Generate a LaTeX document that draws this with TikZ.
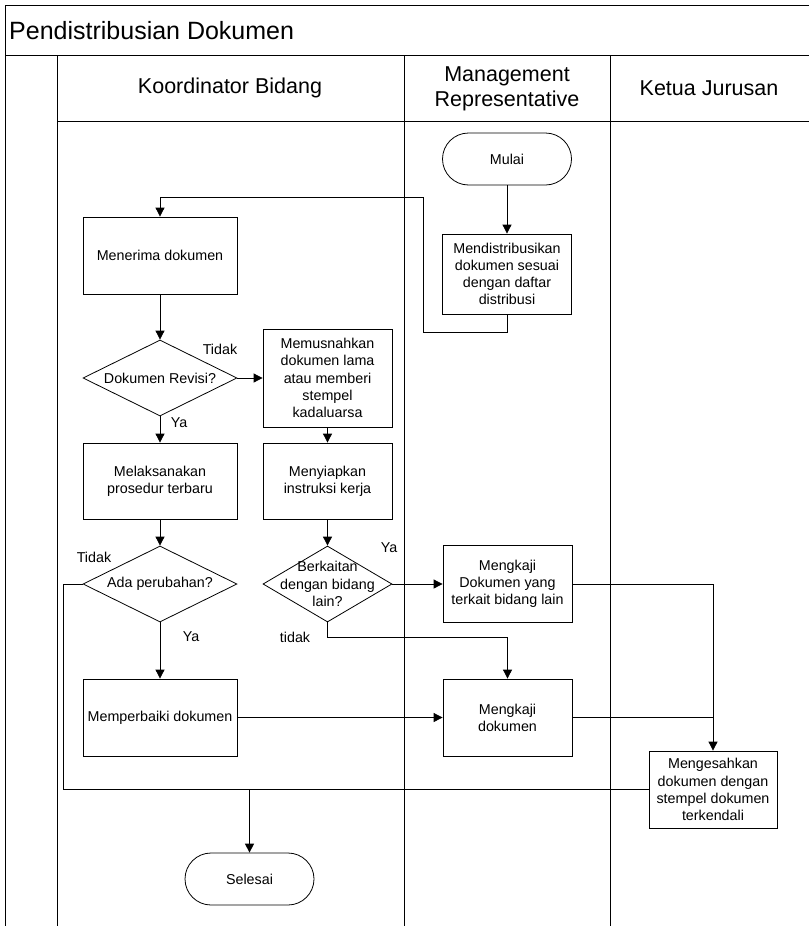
\documentclass[tikz,border=0pt]{standalone}
\usepackage{fontspec}
\setmainfont{Liberation Sans}
\usetikzlibrary{shapes.geometric,arrows.meta}
\newcommand{\bodyfont}{\fontsize{14.3pt}{17.2pt}\selectfont}
\newcommand{\headfont}{\fontsize{21.5pt}{25pt}\selectfont}
\newcommand{\titlefont}{\fontsize{25pt}{29pt}\selectfont}
\tikzset{
    lane/.style={line width=1pt},
    procbox/.style={draw, line width=0.8pt, minimum width=129pt, minimum height=77pt, inner sep=2pt, align=center, font=\bodyfont},
    decision/.style={draw, diamond, aspect=2, line width=0.8pt, minimum width=154pt, minimum height=76pt, inner sep=0pt, align=center, font=\bodyfont},
    terminal/.style={draw, rounded corners=26pt, line width=0.8pt, minimum width=129pt, minimum height=52pt, align=center, font=\bodyfont},
    flow/.style={line width=0.8pt, -{Triangle[length=9pt,width=9pt]}},
    noarrow/.style={line width=0.8pt},
    answer/.style={font=\bodyfont, inner sep=0pt},
}

\begin{document}
\begin{tikzpicture}[x=1pt,y=-1pt]
\useasboundingbox (0,0) rectangle (809,926);
% pool and lanes
\draw[lane] (809,5) -- (5,5) -- (5,926);
\draw[lane] (5,55) -- (809,55);
\draw[lane] (57,121) -- (809,121);
\foreach \x in {57,404,610}
    \draw[lane] (\x,55) -- (\x,926);
\node[anchor=west, font=\titlefont, inner sep=0pt] (title) at (9,31) {Pendistribusian Dokumen};
\node[font=\headfont] (koord) at (230,88) {Koordinator Bidang};
\node[font=\headfont, align=center] (mr) at (507,89) {Management\\Representative};
\node[font=\headfont] (kajur) at (709,88) {Ketua Jurusan};

% steps
\node[terminal] (mulai) at (507,159) {Mulai};
\node[procbox, minimum height=80pt] (distribusi) at (507,274) {Mendistribusikan\\dokumen sesuai\\dengan daftar\\distribusi};
\node[procbox, minimum width=154pt] (terima) at (160,255.5) {Menerima dokumen};
\node[decision] (revisi) at (160,378) {Dokumen Revisi?};
\node[procbox, minimum height=98pt] (musnah) at (327.5,378) {Memusnahkan\\dokumen lama\\atau memberi\\stempel\\kadaluarsa};
\node[procbox, minimum width=154pt, minimum height=76pt] (laksana) at (160,481) {Melaksanakan\\prosedur terbaru};
\node[procbox, minimum height=76pt] (siapkan) at (327.5,481) {Menyiapkan\\instruksi kerja};
\node[decision] (ubah) at (160,584) {Ada perubahan?};
\node[decision, minimum width=129pt, inner xsep=-40pt, inner ysep=-22pt] (kaitan) at (327.5,584) {Berkaitan\\dengan bidang\\lain?};
\node[procbox] (kajilain) at (507.5,584) {Mengkaji\\Dokumen yang\\terkait bidang lain};
\node[procbox, minimum width=154pt] (perbaiki) at (160,717.5) {Memperbaiki dokumen};
\node[procbox] (kaji) at (507.5,717.5) {Mengkaji\\dokumen};
\node[procbox, minimum width=128pt] (sahkan) at (713,789.5) {Mengesahkan\\dokumen dengan\\stempel dokumen\\terkendali};
\node[terminal] (selesai) at (249.5,879) {Selesai};

% answers
\node[answer] (tidak1) at (220,349) {Tidak};
\node[answer] (ya1) at (179,423) {Ya};
\node[answer] (tidak2) at (94,557) {Tidak};
\node[answer] (ya2) at (191,637) {Ya};
\node[answer] (ya3) at (389,548) {Ya};
\node[answer] (tidak3) at (295,637) {tidak};

\coordinate (loopr) at (423,332);
\coordinate (loopt) at (423,197);
\coordinate (backx) at (63,789.5);

% flow
\draw[flow] (mulai) -- (distribusi);
\draw[flow] (distribusi.south) |- (loopr) -- (loopt) -| (terima.north);
\draw[flow] (terima) -- (revisi);
\draw[flow] (revisi) -- (musnah);
\draw[flow] (revisi) -- (laksana);
\draw[flow] (musnah) -- (siapkan);
\draw[flow] (laksana) -- (ubah);
\draw[flow] (siapkan) -- (kaitan);
\draw[flow] (ubah) -- (perbaiki);
\draw[flow] (kaitan) -- (kajilain);
\draw[flow] (kaitan.south) -- ++(0,15) -| (kaji.north);
\draw[flow] (perbaiki) -- (kaji);
\draw[flow] (kajilain.east) -| (sahkan.north);
\draw[noarrow] (kaji.east) -- (kaji.east -| sahkan.north);
\draw[noarrow] (ubah.west) -| (backx) -- (sahkan.west);
\draw[flow, line width=1.2pt] (sahkan.west -| selesai.north) -- (selesai.north);
\end{tikzpicture}
\end{document}
